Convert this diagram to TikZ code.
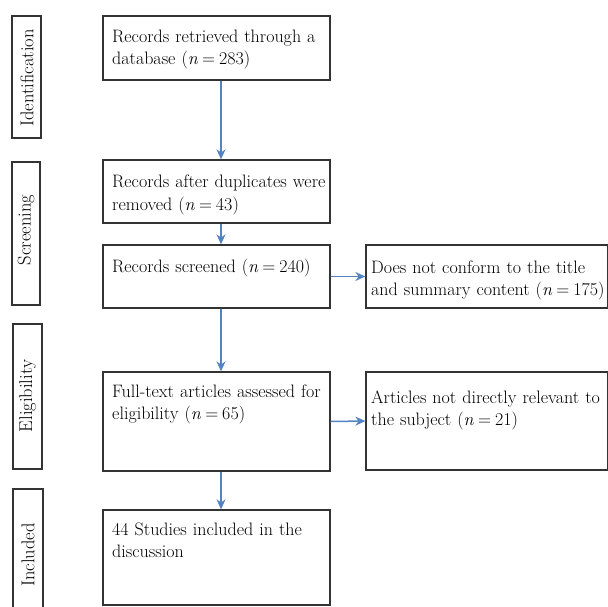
\documentclass[tikz,border=0pt]{standalone}
\usetikzlibrary{arrows.meta}
\definecolor{arrblue}{HTML}{5383C3}
\definecolor{boxgray}{HTML}{333333}
\newcommand{\eqn}[1]{\textit{n}\hspace{4pt}=\hspace{4pt}#1}
\tikzset{
  boxframe/.style={draw=boxgray, line width=1.3pt, inner sep=0pt},
  sidetext/.style={rotate=90, font=\fontsize{18.5}{22}\selectfont, inner sep=0pt},
  bodytext/.style={anchor=base west, align=left, text width=320pt, inner sep=0pt, font=\fontsize{18}{22}\selectfont},
  arr/.style={draw=arrblue, line width=1.5pt, -{Stealth[length=10pt,width=9pt]}}
}
\begin{document}
\begin{tikzpicture}[x=1pt,y=-1pt]
\useasboundingbox (0,0) rectangle (608,607);
% phase boxes
\node[boxframe, minimum width=29pt, minimum height=122pt] (pid) at (26.5,77) {};
\node[boxframe, minimum width=28pt, minimum height=143pt] (psc) at (26,233.5) {};
\node[boxframe, minimum width=29pt, minimum height=145pt] (pel) at (27.5,396.5) {};
\node[boxframe, minimum width=30pt, minimum height=130pt] (pin) at (28,554) {};
\node[sidetext] (tid) at (27,78) {Identification};
\node[sidetext] (tsc) at (26,230) {Screening};
\node[sidetext] (tel) at (27.5,396) {Eligibility};
\node[sidetext] (tin) at (28,555) {Included};
% main boxes
\node[boxframe, minimum width=227pt, minimum height=64pt] (b1) at (216.5,48) {};
\node[boxframe, minimum width=227pt, minimum height=63pt] (b2) at (216.5,191.5) {};
\node[boxframe, minimum width=227pt, minimum height=63pt] (b3) at (216.5,276.5) {};
\node[boxframe, minimum width=227pt, minimum height=99pt] (b4) at (216.5,421.5) {};
\node[boxframe, minimum width=227pt, minimum height=95pt] (b5) at (216.5,557.5) {};
% right boxes
\node[boxframe, minimum width=242pt, minimum height=63pt] (r1) at (487,276.5) {};
\node[boxframe, minimum width=242pt, minimum height=98pt] (r2) at (487,421) {};
% texts
\node[bodytext] (x1) at (112,43) {Records retrieved through a\\database (\eqn{283})};
\node[bodytext] (x2) at (112,188) {Records after duplicates were\\removed (\eqn{43})};
\node[bodytext] (x3) at (112,272) {Records screened (\eqn{240})};
\node[bodytext] (x4) at (112,397) {Full-text articles assessed for\\eligibility (\eqn{65})};
\node[bodytext] (x5) at (112,535) {44 Studies included in the\\discussion};
\node[bodytext] (y1) at (371,273) {Does not conform to the title\\and summary content (\eqn{175})};
\node[bodytext] (y2) at (371,403) {Articles not directly relevant to\\the subject (\eqn{21})};
% arrows
\coordinate (ax) at (221,0);
\draw[arr] (b1.south -| ax) -- (b2.north -| ax);
\draw[arr] (b2.south -| ax) -- (b3.north -| ax);
\draw[arr] (b3.south -| ax) -- (b4.north -| ax);
\draw[arr] (b4.south -| ax) -- (b5.north -| ax);
\draw[arr] (b3.east) -- (r1.west);
\draw[arr] (b4.east) -- (r2.west);
\end{tikzpicture}
\end{document}
